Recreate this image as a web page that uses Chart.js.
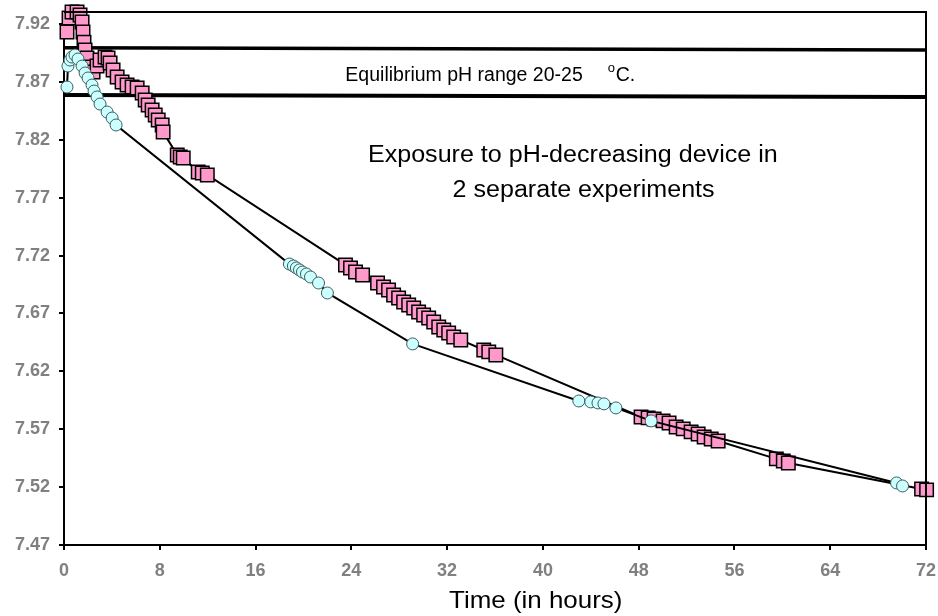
<!DOCTYPE html>
<html>
<head>
<meta charset="utf-8">
<script src="https://cdn.jsdelivr.net/npm/chart.js@4.4.1/dist/chart.umd.min.js"></script>
<style>
html,body{margin:0;padding:0;background:#fff;}
#wrap{width:938px;height:616px;}
</style>
</head>
<body>
<div id="wrap"><canvas id="c" width="938" height="616"></canvas></div>
<script>
// ---- data ----
const X_TICKS = [0, 8, 16, 24, 32, 40, 48, 56, 64, 72];
const Y_TICKS = [7.47, 7.52, 7.57, 7.62, 7.67, 7.72, 7.77, 7.82, 7.87, 7.92];

// Experiment 1 (circles)
const exp1Hours = [0.25, 0.33, 0.50, 0.67, 0.92, 1.17, 1.51, 1.76, 2.01, 2.34, 2.51, 2.76, 3.01, 3.60, 4.02, 4.35,
  18.83, 19.16, 19.41, 19.67, 19.92, 20.25, 20.59, 21.26, 22.0, 29.12,
  43.0, 44.0, 44.6, 45.1, 46.1, 49.04, 69.54, 70.04];
const exp1pH = [7.8656, 7.8837, 7.8889, 7.8915, 7.8932, 7.8898, 7.8837, 7.8777, 7.8734, 7.8673, 7.8621, 7.8570, 7.8509, 7.8440, 7.8388, 7.8328,
  7.7127, 7.7110, 7.7093, 7.7076, 7.7058, 7.7041, 7.7015, 7.6963, 7.6877, 7.6437,
  7.5944, 7.5936, 7.5927, 7.5919, 7.5884, 7.5772, 7.5236, 7.5210];

// Experiment 2 (squares)
const exp2Hours = [0.25, 0.42, 0.67, 1.09, 1.34, 1.51, 1.59, 1.67, 1.76, 1.92, 2.18, 2.43, 2.76, 3.01, 3.43, 3.68, 3.85, 4.10, 4.44, 4.85,
  5.27, 5.69, 6.11, 6.53, 6.78, 7.03, 7.36, 7.62, 7.87, 8.20, 8.28,
  9.46, 9.71, 9.96, 11.21, 11.55, 11.97,
  23.51, 23.93, 24.35, 24.94, 26.19, 26.69, 27.11, 27.53, 27.95, 28.37, 28.79, 29.21, 29.62, 30.04, 30.46, 30.88, 31.30, 31.72, 32.13, 32.55, 33.14,
  35.06, 35.48, 36.07,
  48.20, 48.79, 49.29, 50.04, 50.54, 51.13, 51.72, 52.38, 52.97, 53.47, 54.06, 54.64,
  59.50, 60.08, 60.50, 71.63, 72.05];
const exp2pH = [7.9131, 7.9252, 7.9304, 7.9304, 7.9278, 7.9217, 7.9131, 7.9044, 7.8975, 7.8906, 7.8829, 7.8786, 7.8837, 7.8889, 7.8915, 7.8906, 7.8863, 7.8803, 7.8742, 7.8699,
  7.8673, 7.8656, 7.8647, 7.8604, 7.8544, 7.8500, 7.8457, 7.8414, 7.8371, 7.8328, 7.8267,
  7.8069, 7.8051, 7.8043, 7.7922, 7.7913, 7.7896,
  7.7119, 7.7093, 7.7058, 7.7033, 7.6963, 7.6929, 7.6903, 7.6860, 7.6834, 7.6799, 7.6773, 7.6747, 7.6713, 7.6687, 7.6661, 7.6627, 7.6583, 7.6557, 7.6532, 7.6497, 7.6471,
  7.6385, 7.6368, 7.6342,
  7.5806, 7.5798, 7.5789, 7.5772, 7.5754, 7.5720, 7.5703, 7.5677, 7.5659, 7.5633, 7.5616, 7.5599,
  7.5444, 7.5426, 7.5409, 7.5184, 7.5176];

// Equilibrium range boundary lines
const eqHours = [0, 72];
const eqUpper = [7.8995, 7.8975];
const eqLower = [7.8587, 7.8570];

const AXIS_TITLE = 'Time (in hours)';
const EQ_LABEL = 'Equilibrium pH range 20-25';
const NOTE_LINES = ['Exposure to pH-decreasing device in', '2 separate experiments'];

// ---- build ----
const toXY = (xs, ys) => xs.map((x, i) => ({x: x, y: ys[i]}));

const frameAndText = {
  id: 'frameAndText',
  afterDatasetsDraw(chart) {
    const ctx = chart.ctx, a = chart.chartArea;
    const xs = chart.scales.x, ys = chart.scales.y;
    ctx.save();
    ctx.strokeStyle = '#000';
    ctx.lineWidth = 2;
    ctx.beginPath();
    ctx.moveTo(a.left, a.top); ctx.lineTo(a.right, a.top); ctx.lineTo(a.right, a.bottom);
    ctx.stroke();

    ctx.fillStyle = '#000';
    ctx.textBaseline = 'alphabetic';
    // equilibrium label
    ctx.font = '19.5px "Liberation Sans", Arial, sans-serif';
    ctx.textAlign = 'left';
    const ex = xs.getPixelForValue(23.5), ey = ys.getPixelForValue(7.8708);
    ctx.fillText(EQ_LABEL, ex, ey);
    const w = ctx.measureText(EQ_LABEL).width;
    ctx.font = '13px "Liberation Sans", Arial, sans-serif';
    ctx.fillText('o', ex + w + 25, ey - 9);
    ctx.font = '19.5px "Liberation Sans", Arial, sans-serif';
    ctx.fillText('C.', ex + w + 33, ey);

    // note
    ctx.font = '23px "Liberation Sans", Arial, sans-serif';
    ctx.textAlign = 'center';
    const drawScaled = (t, cx, cy, sx) => {
      ctx.save(); ctx.translate(cx, cy); ctx.scale(sx, 1); ctx.fillText(t, 0, 0); ctx.restore();
    };
    drawScaled(NOTE_LINES[0], xs.getPixelForValue(42.5), ys.getPixelForValue(7.8008), 1.09);
    drawScaled(NOTE_LINES[1], xs.getPixelForValue(43.4), ys.getPixelForValue(7.7706), 1.09);

    // x axis title
    ctx.font = '24px "Liberation Sans", Arial, sans-serif';
    drawScaled(AXIS_TITLE, xs.getPixelForValue(39.4), chart.height - 8, 1.08);
    ctx.restore();
  }
};

new Chart(document.getElementById('c'), {
  type: 'scatter',
  data: {
    datasets: [
      {
        label: 'Experiment 1',
        data: toXY(exp1Hours, exp1pH),
        showLine: true,
        borderColor: '#000',
        borderWidth: 2,
        pointStyle: 'circle',
        pointRadius: 6,
        pointBackgroundColor: '#CCFFFF',
        pointBorderColor: '#3C5E5E',
        pointBorderWidth: 1,
        clip: false,
        order: 1
      },
      {
        label: 'Experiment 2',
        data: toXY(exp2Hours, exp2pH),
        showLine: true,
        borderColor: '#000',
        borderWidth: 2,
        pointStyle: 'rect',
        pointRadius: 9.5,
        pointBackgroundColor: '#FF99CC',
        pointBorderColor: '#000',
        pointBorderWidth: 1.5,
        clip: false,
        order: 2
      },
      {
        label: 'upper',
        data: toXY(eqHours, eqUpper),
        showLine: true,
        borderColor: '#000',
        borderWidth: 3.5,
        pointRadius: 0,
        order: 3
      },
      {
        label: 'lower',
        data: toXY(eqHours, eqLower),
        showLine: true,
        borderColor: '#000',
        borderWidth: 4,
        pointRadius: 0,
        order: 3
      }
    ]
  },
  options: {
    responsive: false,
    animation: false,
    layout: {padding: {left: 0, right: 12, top: 12, bottom: 0}},
    plugins: {legend: {display: false}, tooltip: {enabled: false}},
    scales: {
      x: {
        type: 'linear',
        min: 0, max: 72,
        afterBuildTicks: s => { s.ticks = X_TICKS.map(v => ({value: v})); },
        afterFit: s => { s.height = 71; s.paddingLeft = 0; s.paddingRight = 0; },
        ticks: {
          color: '#808080',
          font: {family: '"Liberation Sans", Arial, sans-serif', size: 18, weight: 'bold'},
          padding: 10,
          maxRotation: 0,
          autoSkip: false
        },
        grid: {drawOnChartArea: false, drawTicks: true, tickLength: 5, color: '#000', lineWidth: 2},
        border: {display: true, color: '#000', width: 2}
      },
      y: {
        type: 'linear',
        min: 7.47, max: 7.9304,
        afterBuildTicks: s => { s.ticks = Y_TICKS.map(v => ({value: v})); },
        afterFit: s => { s.width = 64; s.paddingTop = 0; s.paddingBottom = 0; },
        ticks: {
          color: '#808080',
          font: {family: '"Liberation Sans", Arial, sans-serif', size: 18, weight: 'bold'},
          padding: 9,
          autoSkip: false,
          callback: v => Number(v).toFixed(2)
        },
        grid: {drawOnChartArea: false, drawTicks: true, tickLength: 5, color: '#000', lineWidth: 2},
        border: {display: true, color: '#000', width: 2}
      }
    }
  },
  plugins: [frameAndText]
});
</script>
</body>
</html>
